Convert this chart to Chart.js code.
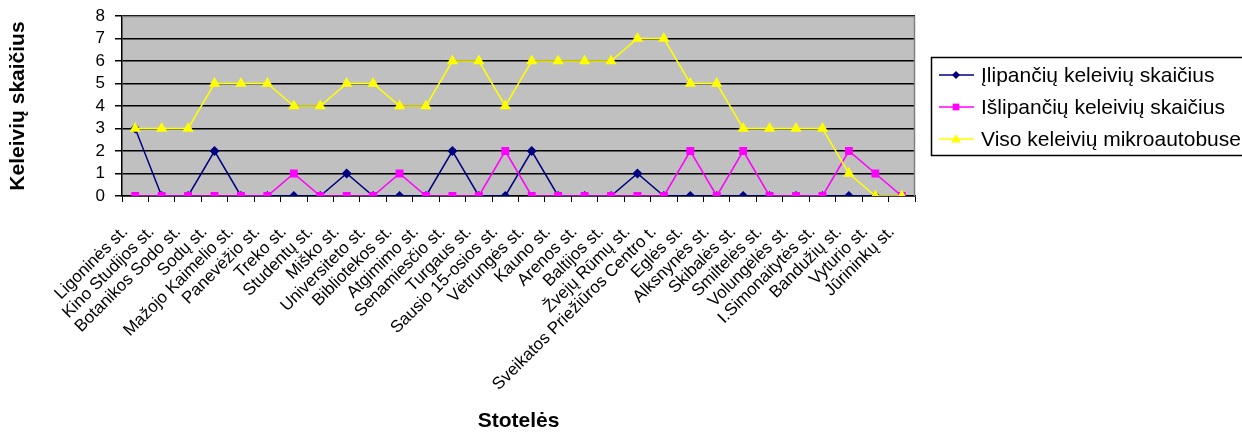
<!DOCTYPE html>
<html>
<head>
<meta charset="utf-8">
<script src="https://cdn.jsdelivr.net/npm/chart.js@4.4.0/dist/chart.umd.min.js"></script>
<style>
  body { margin: 0; background: #fff; }
  #wrap { width: 1242px; height: 434px; }
</style>
</head>
<body>
<div id="wrap"><canvas id="chart"></canvas></div>
<script>
// stoteles
const stops = [
    'Ligoninės st.', 'Kino Studijos st.', 'Botanikos Sodo st.', 'Sodų st.',
    'Mažojo Kaimelio st.', 'Panevėžio st.', 'Treko st.', 'Studentų st.',
    'Miško st.', 'Universiteto st.', 'Bibliotekos st.', 'Atgimimo st.',
    'Senamiesčio st.', 'Turgaus st.', 'Sausio 15-osios st.', 'Vėtrungės st.',
    'Kauno st.', 'Arenos st.', 'Baltijos st.', 'Žvejų Rūmų st.',
    'Sveikatos Priežiūros Centro t.', 'Eglės st.', 'Alksnynės st.', 'Skibalės st.',
    'Smiltelės st.', 'Volungėlės st.', 'I.Simonaitytės st.', 'Bandužių st.',
    'Vyturio st.', 'Jūrininkų st.'
];
const boarding  = [3,0,0,2,0,0,0,0,1,0,0,0,2,0,0,2,0,0,0,1,0,0,0,0,0,0,0,0,0,0];
const alighting = [0,0,0,0,0,0,1,0,0,0,1,0,0,0,2,0,0,0,0,0,0,2,0,2,0,0,0,2,1,0];
const onBoard   = [3,3,3,5,5,5,4,4,5,5,4,4,6,6,4,6,6,6,6,7,7,5,5,3,3,3,3,1,0,0];

const FONT = "'Liberation Sans', Arial, sans-serif";

// gray plot background + border, like excel
const plotArea = {
    id: 'plotArea',
    beforeDraw(chart) {
        const { ctx, chartArea: a } = chart;
        ctx.save();
        ctx.fillStyle = '#C0C0C0';
        ctx.fillRect(a.left, a.top, a.right - a.left, a.bottom - a.top);
        ctx.restore();
    },
    afterDatasetsDraw(chart) {
        const { ctx, chartArea: a } = chart;
        ctx.save();
        ctx.strokeStyle = '#808080';
        ctx.lineWidth = 1.5;
        ctx.beginPath();
        ctx.moveTo(a.left, a.top + 0.5);
        ctx.lineTo(a.right - 0.5, a.top + 0.5);
        ctx.lineTo(a.right - 0.5, a.bottom);
        ctx.stroke();
        ctx.restore();
    }
};

function drawMarker(ctx, style, r, x, y) {
    ctx.beginPath();
    if (style === 'rectRot') {
        ctx.moveTo(x, y - r); ctx.lineTo(x + r, y); ctx.lineTo(x, y + r); ctx.lineTo(x - r, y);
    } else if (style === 'rect') {
        ctx.rect(x - r * 0.75, y - r * 0.75, r * 1.5, r * 1.5);
    } else {
        ctx.moveTo(x, y - r); ctx.lineTo(x + r, y + r * 0.7); ctx.lineTo(x - r, y + r * 0.7);
    }
    ctx.closePath();
    ctx.fill();
}

// boxed legend on the right
const boxLegend = {
    id: 'boxLegend',
    afterDraw(chart) {
        const { ctx } = chart;
        const x = 931, y = 57, h = 98;
        ctx.save();
        ctx.strokeStyle = '#000';
        ctx.lineWidth = 1.5;
        ctx.strokeRect(x + 0.5, y + 0.5, 400, h);
        ctx.font = '21px ' + FONT;
        ctx.textBaseline = 'middle';
        chart.data.datasets.forEach((ds, i) => {
            const cy = y + 18 + i * 32;
            ctx.strokeStyle = ds.borderColor;
            ctx.lineWidth = 1.5;
            ctx.beginPath();
            ctx.moveTo(939, cy);
            ctx.lineTo(974, cy);
            ctx.stroke();
            ctx.fillStyle = ds.pointBackgroundColor;
            drawMarker(ctx, ds.pointStyle, ds.pointRadius, 956, cy);
            ctx.fillStyle = '#000';
            ctx.fillText(ds.label, 981, cy + 1);
        });
        ctx.restore();
    }
};

new Chart(document.getElementById('chart'), {
    type: 'line',
    data: {
        labels: stops,
        datasets: [
            {
                label: 'Įlipančių keleivių skaičius',
                data: boarding,
                borderColor: '#000080',
                backgroundColor: '#000080',
                pointBackgroundColor: '#000080',
                pointBorderColor: '#000080',
                pointStyle: 'rectRot',
                pointRadius: 4,
                borderWidth: 1.5,
                order: 3
            },
            {
                label: 'Išlipančių keleivių skaičius',
                data: alighting,
                borderColor: '#FF00FF',
                backgroundColor: '#FF00FF',
                pointBackgroundColor: '#FF00FF',
                pointBorderColor: '#FF00FF',
                pointStyle: 'rect',
                pointRadius: 4.5,
                borderWidth: 1.5,
                order: 2
            },
            {
                label: 'Viso keleivių mikroautobuse',
                data: onBoard,
                borderColor: '#FFFF00',
                backgroundColor: '#FFFF00',
                pointBackgroundColor: '#FFFF00',
                pointBorderColor: '#FFFF00',
                pointStyle: 'triangle',
                pointRadius: 5,
                borderWidth: 1.5,
                order: 1
            }
        ]
    },
    options: {
        responsive: true,
        maintainAspectRatio: false,
        animation: false,
        layout: { padding: { top: 16, right: 327, left: 0, bottom: 0 } },
        plugins: {
            legend: { display: false },
            tooltip: { enabled: false }
        },
        scales: {
            x: {
                offset: true,
                afterFit(scale) { scale.height = 238; },
                grid: {
                    offset: true,
                    drawOnChartArea: false,
                    color: '#000',
                    tickLength: 6
                },
                border: { color: '#000', width: 1.5 },
                ticks: {
                    autoSkip: false,
                    maxRotation: 45,
                    minRotation: 45,
                    color: '#000',
                    padding: 20,
                    labelOffset: -10,
                    font: { family: FONT, size: 17 }
                },
                title: {
                    display: true,
                    text: 'Stotelės',
                    color: '#000',
                    padding: { top: 0, bottom: 0 },
                    font: { family: FONT, size: 21, weight: 'bold' }
                }
            },
            y: {
                min: 0,
                max: 8,
                afterFit(scale) {
                    scale.width = 122;
                    scale.paddingTop = 0;
                    scale.paddingBottom = 0;
                },
                ticks: {
                    stepSize: 1,
                    autoSkip: false,
                    color: '#000',
                    padding: 10,
                    font: { family: FONT, size: 17 }
                },
                grid: {
                    color: '#000',
                    lineWidth: 1.5,
                    tickLength: 7
                },
                border: { color: '#000', width: 1.5 },
                title: {
                    display: true,
                    text: 'Keleivių skaičius',
                    color: '#000',
                    padding: { top: 6, bottom: 0 },
                    font: { family: FONT, size: 21, weight: 'bold' }
                }
            }
        }
    },
    plugins: [plotArea, boxLegend]
});
</script>
</body>
</html>
